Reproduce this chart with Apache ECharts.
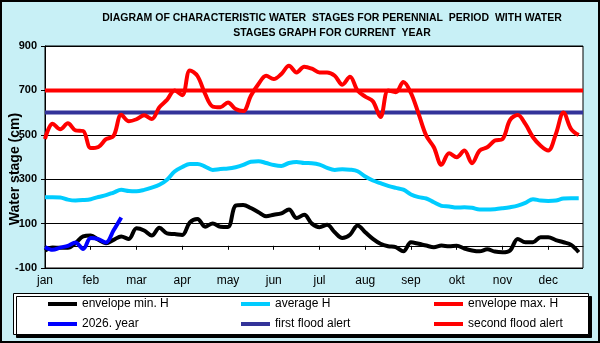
<!DOCTYPE html>
<html lang="en">
  <head>
    <meta charset="UTF-8" />
    <title>Water stages</title>
    <script src="https://cdn.jsdelivr.net/npm/echarts@6/dist/echarts.min.js"></script>
    <style>
      body { margin: 0; }
    </style>
  </head>
  <body>
    <div id="chart" style="width: 600px; height: 343px"></div>

    <script>
      // months on the x axis, one month = 6 steps
      var months = ["jan", "feb", "mar", "apr", "may", "jun", "jul", "aug", "sep", "okt", "nov", "dec"]
      var stepsPerMonth = 6
      var xMax = 70.56

      // values (cm), one every 1/6 month
      var minH = [
        -21, -8, -9, -9, 12, 42, 46, 27, 12, 27, 42, 31, 79, 69, 46, 81, 56, 53,
        49, 106, 121, 86, 101, 86, 85, 181, 184, 170, 151, 133, 140, 146, 164, 125, 140, 100,
        84, 95, 61, 35, 50, 92, 61, 31, 9, -2, -6, -25, 16, 9, 1, -6, 1,
        -2, 0, -12, -21, -25, -16, -26, -29, -21, 31, 16, 16, 39, 39, 26, 16, 4, -29,
      ]
      var avgH = [
        219, 219, 218, 208, 204, 206, 210, 220, 228, 240, 252, 247, 246, 252, 262, 275, 298, 335,
        355, 369, 369, 357, 342, 346, 348, 354, 364, 379, 381, 373, 364, 360, 373, 378, 373, 372,
        366, 351, 342, 345, 343, 336, 312, 294, 282, 270, 261, 253, 231, 219, 213, 196, 180,
        177, 172, 174, 171, 163, 163, 165, 169, 174, 181, 193, 210, 204, 202, 204, 213, 214, 214,
      ]
      var maxH = [
        481, 550, 525, 552, 520, 517, 440, 445, 480, 495, 590, 561, 570, 588, 571, 624, 657, 700,
        678, 790, 765, 684, 627, 624, 646, 616, 607, 676, 729, 766, 751, 774, 811, 781, 807, 798,
        781, 781, 766, 726, 762, 699, 672, 651, 580, 700, 692, 738, 688, 594, 496, 444, 365,
        417, 399, 429, 372, 429, 444, 474, 481, 567, 589, 549, 489, 451, 429, 504, 601, 526, 499,
      ]
      var year2026 = [-5, -18, -8, 0, 15, -14, 35, 30, 15, 70, 128]
      var firstAlert = 600
      var secondAlert = 700

      function toPairs(arr) {
        var out = []
        for (let i = 0; i < arr.length; i++) {
          out.push([i, arr[i]])
        }
        return out
      }
      function flat(v) {
        return [[0, v], [xMax, v]]
      }

      var mCharts = echarts.init(document.getElementById("chart"))

      var legendText = { fontSize: 12, color: "#000", fontFamily: "Liberation Sans", lineHeight: 14 }
      function legendCol(left, names) {
        return {
          orient: "vertical",
          left: left,
          top: 297,
          padding: 0,
          itemGap: 6,
          itemWidth: 29,
          itemHeight: 4,
          icon: "rect",
          selectedMode: false,
          z: 10,
          textStyle: legendText,
          data: names,
        }
      }

      var option = {
        animation: false,
        backgroundColor: "#c8f0f6",
        grid: {
          left: 45,
          right: 17,
          top: 46,
          bottom: 75,
          show: true,
          backgroundColor: "#fff",
          borderColor: "#000",
          borderWidth: 1,
        },
        graphic: [
          {
            type: "text",
            x: 332,
            y: 18,
            style: {
              text: "DIAGRAM OF CHARACTERISTIC WATER  STAGES FOR PERENNIAL  PERIOD  WITH WATER",
              font: "bold 10.5px 'Liberation Sans'",
              fill: "#000",
              textAlign: "center",
              textVerticalAlign: "middle",
            },
          },
          {
            type: "text",
            x: 332,
            y: 33,
            style: {
              text: "STAGES GRAPH FOR CURRENT  YEAR",
              font: "bold 10.5px 'Liberation Sans'",
              fill: "#000",
              textAlign: "center",
              textVerticalAlign: "middle",
            },
          },
          {
            type: "text",
            x: 15,
            y: 169,
            rotation: Math.PI / 2,
            style: {
              text: "Water stage (cm)",
              font: "bold 14px 'Liberation Sans'",
              fill: "#000",
              textAlign: "center",
              textVerticalAlign: "middle",
            },
          },
          {
            type: "rect",
            z: 1,
            shape: { x: 13.5, y: 293.5, width: 575, height: 41 },
            style: {
              fill: "#fff",
              stroke: "#000",
              lineWidth: 1,
              shadowColor: "#000",
              shadowOffsetX: 3,
              shadowOffsetY: 3,
              shadowBlur: 0,
            },
          },
          {
            type: "rect",
            z: 20,
            shape: { x: 1, y: 1, width: 598, height: 341 },
            style: { fill: "none", stroke: "#000", lineWidth: 2 },
          },
        ],
        legend: [
          legendCol(48, ["envelope min. H", "2026. year"]),
          legendCol(241, ["average H", "first flood alert"]),
          legendCol(434, ["envelope max. H", "second flood alert"]),
        ],
        xAxis: {
          type: "value",
          min: 0,
          max: xMax,
          interval: stepsPerMonth,
          axisLine: { lineStyle: { color: "#000", width: 1 } },
          axisTick: { show: true, length: 4, lineStyle: { color: "#000" } },
          splitLine: { show: false },
          axisLabel: {
            showMaxLabel: false,
            margin: 7,
            fontSize: 12,
            color: "#000",
            fontFamily: "Liberation Sans",
            formatter: function (v) {
              if (v % stepsPerMonth !== 0) return ""
              return months[v / stepsPerMonth] || ""
            },
          },
        },
        yAxis: {
          type: "value",
          min: -100,
          max: 900,
          interval: 200,
          axisLine: { show: true, lineStyle: { color: "#000", width: 1 } },
          axisTick: { show: true, length: 4, lineStyle: { color: "#000" } },
          splitLine: { show: true, lineStyle: { color: "#000", width: 1 } },
          axisLabel: {
            margin: 8,
            fontSize: 11,
            fontWeight: "bold",
            color: "#000",
            fontFamily: "Liberation Sans",
          },
        },
        series: [
          {
            name: "first flood alert",
            type: "line",
            data: flat(firstAlert),
            symbol: "none",
            color: "#333399",
            lineStyle: { width: 4, color: "#333399" },
            z: 2,
          },
          {
            name: "second flood alert",
            type: "line",
            data: flat(secondAlert),
            symbol: "none",
            color: "#ff0000",
            lineStyle: { width: 4, color: "#ff0000" },
            z: 2,
          },
          {
            name: "envelope min. H",
            type: "line",
            data: toPairs(minH),
            symbol: "none",
            smooth: 0.35,
            color: "#000000",
            lineStyle: { width: 4, color: "#000000" },
            z: 3,
          },
          {
            name: "average H",
            type: "line",
            data: toPairs(avgH),
            symbol: "none",
            smooth: 0.35,
            color: "#00ccff",
            lineStyle: { width: 4, color: "#00ccff" },
            z: 3,
          },
          {
            name: "envelope max. H",
            type: "line",
            data: toPairs(maxH),
            symbol: "none",
            smooth: 0.35,
            color: "#ff0000",
            lineStyle: { width: 4, color: "#ff0000" },
            z: 3,
          },
          {
            name: "2026. year",
            type: "line",
            data: toPairs(year2026),
            symbol: "none",
            smooth: 0.35,
            color: "#0000ff",
            lineStyle: { width: 4, color: "#0000ff" },
            z: 4,
          },
        ],
      }

      mCharts.setOption(option)
    </script>
  </body>
</html>
